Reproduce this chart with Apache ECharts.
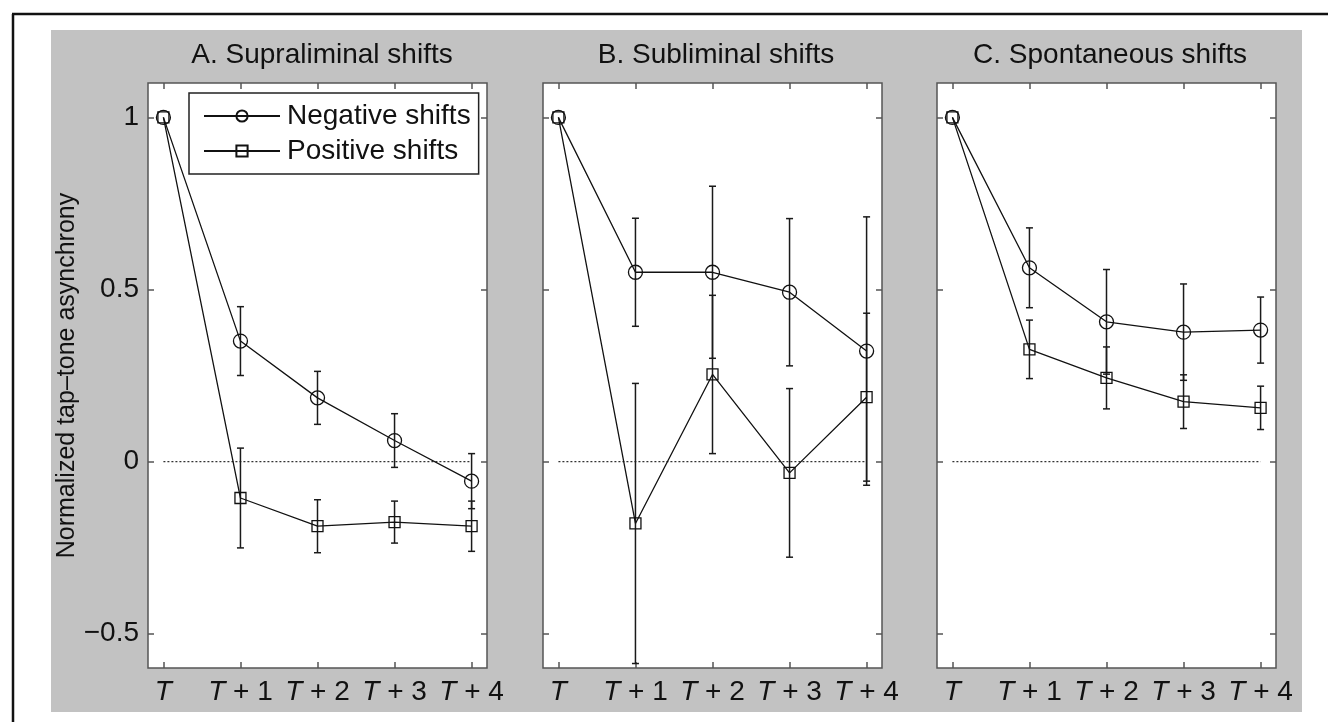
<!DOCTYPE html>
<html>
<head>
<meta charset="utf-8">
<script src="https://cdn.jsdelivr.net/npm/echarts@6/dist/echarts.min.js"></script>
<style>
html,body{margin:0;padding:0;background:#fff;}
#c{width:1328px;height:722px;}
</style>
</head>
<body>
<div id="c"></div>
<script>
// ---- data ----
const categories = ['T', 'T + 1', 'T + 2', 'T + 3', 'T + 4'];
const panelTitles = ['A. Supraliminal shifts', 'B. Subliminal shifts', 'C. Spontaneous shifts'];
const seriesNames = ['Negative shifts', 'Positive shifts'];
const yTicks = [-0.5, 0, 0.5, 1];
const yTickLabels = ['\u22120.5', '0', '0.5', '1'];

const negA = [1, 0.35, 0.185, 0.061, -0.057];
const negAErr = [0, 0.10, 0.077, 0.078, 0.08];
const posA = [1, -0.106, -0.188, -0.176, -0.188];
const posAErr = [0, 0.145, 0.077, 0.061, 0.073];

const negB = [1, 0.55, 0.55, 0.492, 0.321];
const negBErr = [0, 0.157, 0.25, 0.214, 0.39];
const posB = [1, -0.18, 0.253, -0.033, 0.187];
const posBErr = [0, 0.407, 0.23, 0.245, 0.244];

const negC = [1, 0.563, 0.406, 0.376, 0.382];
const negCErr = [0, 0.116, 0.152, 0.14, 0.096];
const posC = [1, 0.326, 0.243, 0.174, 0.156];
const posCErr = [0, 0.085, 0.09, 0.078, 0.063];

const panels = [
  {neg: negA, negErr: negAErr, pos: posA, posErr: posAErr},
  {neg: negB, negErr: negBErr, pos: posB, posErr: posBErr},
  {neg: negC, negErr: negCErr, pos: posC, posErr: posCErr}
];

// ---- layout ----
const FONT = 'Liberation Sans, Arial, sans-serif';
const gridLefts = [148, 543, 937];
const gridW = 339, gridTop = 83, gridH = 585;
const titleCenters = [317, 711, 1105];
const frameColor = '#555';

const grids = [], xAxes = [], yAxes = [], series = [], titles = [];
const xIdx = categories.map((c, i) => i);

function catLabel(v) {
  const i = Math.round(v);
  if (i === 0) return '{i|T}';
  return '{i|T}{n| + ' + i + '}';
}

function errRender(params, api) {
  const x = api.value(0), lo = api.value(1), hi = api.value(2);
  if (hi - lo <= 0) return null;
  const a = api.coord([x, lo]), b = api.coord([x, hi]);
  const w = 3.5;
  const st = {stroke: '#1a1a1a', lineWidth: 1.5};
  return {type: 'group', children: [
    {type: 'line', shape: {x1: a[0], y1: a[1], x2: b[0], y2: b[1]}, style: st},
    {type: 'line', shape: {x1: a[0] - w, y1: a[1], x2: a[0] + w, y2: a[1]}, style: st},
    {type: 'line', shape: {x1: b[0] - w, y1: b[1], x2: b[0] + w, y2: b[1]}, style: st}
  ]};
}

const tickStyle = {color: frameColor, width: 1.5};

panels.forEach((p, k) => {
  grids.push({left: gridLefts[k], top: gridTop, width: gridW, height: gridH,
    show: true, backgroundColor: '#fff', borderColor: frameColor, borderWidth: 1.5, containLabel: false});
  titles.push({text: panelTitles[k], left: titleCenters[k], top: 36, textAlign: 'center',
    textStyle: {fontFamily: FONT, fontSize: 28, fontWeight: 'normal', color: '#111'}});
  const xb = xAxes.length;
  xAxes.push({type: 'value', gridIndex: k, min: -0.2, max: 4.2, position: 'bottom',
    axisLine: {show: false, onZero: false}, splitLine: {show: false},
    axisTick: {show: true, inside: true, length: 6, customValues: xIdx, lineStyle: tickStyle},
    axisLabel: {show: true, customValues: xIdx, margin: 10, formatter: catLabel,
      rich: {i: {fontStyle: 'italic', fontFamily: FONT, fontSize: 28, color: '#111'},
             n: {fontFamily: FONT, fontSize: 28, color: '#111'}}}});
  xAxes.push({type: 'value', gridIndex: k, min: -0.2, max: 4.2, position: 'top',
    axisLine: {show: false, onZero: false}, splitLine: {show: false},
    axisTick: {show: true, inside: true, length: 6, customValues: xIdx, lineStyle: tickStyle},
    axisLabel: {show: false}});
  const yb = yAxes.length;
  yAxes.push({type: 'value', gridIndex: k, min: -0.6, max: 1.1, position: 'left',
    axisLine: {show: false, onZero: false}, splitLine: {show: false},
    axisTick: {show: true, inside: true, length: 6, customValues: yTicks, lineStyle: tickStyle},
    axisLabel: {show: k === 0, customValues: yTicks, margin: 9,
      formatter: v => yTickLabels[yTicks.indexOf(Math.round(v * 10) / 10)],
      fontFamily: FONT, fontSize: 28, color: '#111'},
    name: k === 0 ? 'Normalized tap\u2013tone asynchrony' : '',
    nameLocation: 'middle', nameGap: 64,
    nameTextStyle: {fontFamily: FONT, fontSize: 25, color: '#111'}});
  yAxes.push({type: 'value', gridIndex: k, min: -0.6, max: 1.1, position: 'right',
    axisLine: {show: false, onZero: false}, splitLine: {show: false},
    axisTick: {show: true, inside: true, length: 6, customValues: yTicks, lineStyle: tickStyle},
    axisLabel: {show: false}});

  // zero dotted line
  series.push({type: 'line', xAxisIndex: xb, yAxisIndex: yb, data: [[0, 0], [4, 0]],
    symbol: 'none', silent: true, lineStyle: {color: '#333', width: 1.3, type: [2, 2]}, z: 1});

  const sets = [
    {name: seriesNames[0], vals: p.neg, err: p.negErr, symbol: 'circle', size: 14},
    {name: seriesNames[1], vals: p.pos, err: p.posErr, symbol: 'rect', size: 11}
  ];
  sets.forEach(s => {
    series.push({type: 'custom', xAxisIndex: xb, yAxisIndex: yb, renderItem: errRender, silent: true, z: 2,
      data: s.vals.map((v, i) => [i, v - s.err[i], v + s.err[i]])});
    series.push({type: 'line', name: s.name, xAxisIndex: xb, yAxisIndex: yb, z: 3,
      data: s.vals.map((v, i) => [i, v]),
      symbol: s.symbol, symbolSize: s.size, showAllSymbol: true,
      lineStyle: {color: '#111', width: 1.3},
      itemStyle: {color: 'rgba(255,255,255,0)', borderColor: '#111', borderWidth: 1.3}});
  });
});

const option = {
  animation: false,
  backgroundColor: '#fff',
  textStyle: {fontFamily: FONT},
  title: titles,
  graphic: [
    {type: 'rect', shape: {x: 51, y: 30, width: 1251, height: 682}, style: {fill: '#c2c2c2'}, z: -10, silent: true},
    {type: 'line', shape: {x1: 12, y1: 14, x2: 1328, y2: 14}, style: {stroke: '#111', lineWidth: 2.5}, z: -10},
    {type: 'line', shape: {x1: 13, y1: 14, x2: 13, y2: 722}, style: {stroke: '#111', lineWidth: 2.5}, z: -10}
  ],
  legend: {
    data: seriesNames, left: 189, top: 93, orient: 'vertical',
    backgroundColor: '#fff', borderColor: '#222', borderWidth: 1.5,
    padding: [9, 8, 9, 14], itemGap: 7, itemWidth: 76, itemHeight: 14,
    textStyle: {fontFamily: FONT, fontSize: 28, color: '#111', padding: [0, 0, 0, 2]}
  },
  grid: grids, xAxis: xAxes, yAxis: yAxes, series: series
};
const chart = echarts.init(document.getElementById('c'), null, {renderer: 'canvas'});
chart.setOption(option);
</script>
</body>
</html>
